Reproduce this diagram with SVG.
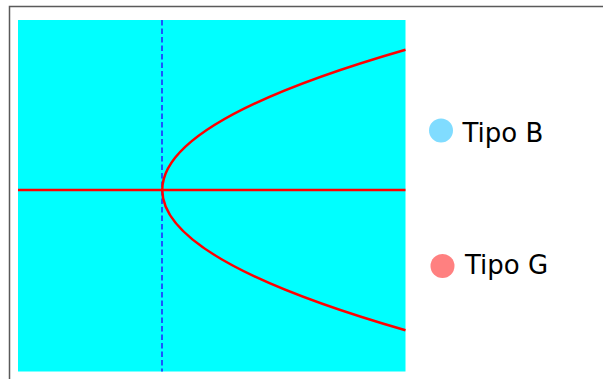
<svg xmlns="http://www.w3.org/2000/svg" width="603" height="379" viewBox="0 0 603 379">
  <style>
    .curve { fill: none; stroke: #ff0000; stroke-width: 2.5; }
    .label { font-family: "DejaVu Sans", sans-serif; font-size: 26px; fill: #000000; }
  </style>
  <rect width="603" height="379" fill="#ffffff"/>
  <path d="M9.5,379 V6.5 H603" fill="none" stroke="#5a5a5a" stroke-width="1.5"/>
  <g id="plot">
    <rect x="18" y="20" width="387.5" height="351.5" fill="#00ffff"/>
  </g>
  <g id="connectors">
    <line x1="162" y1="20" x2="162" y2="371.5" stroke="#1a55ff" stroke-width="2" stroke-dasharray="5.5,3"/>
    <line class="curve" x1="18" y1="190" x2="405.5" y2="190"/>
    <path class="curve" d="M405.5,49.7 Q-81,190 405.5,330.3"/>
  </g>
  <g id="legend-b">
    <circle cx="441" cy="130.5" r="12" fill="#80dcff"/>
    <text class="label" x="462.5" y="141.5">Tipo B</text>
  </g>
  <g id="legend-g">
    <circle cx="442.5" cy="266" r="12" fill="#ff8080"/>
    <text class="label" x="465" y="273.5">Tipo G</text>
  </g>
</svg>
